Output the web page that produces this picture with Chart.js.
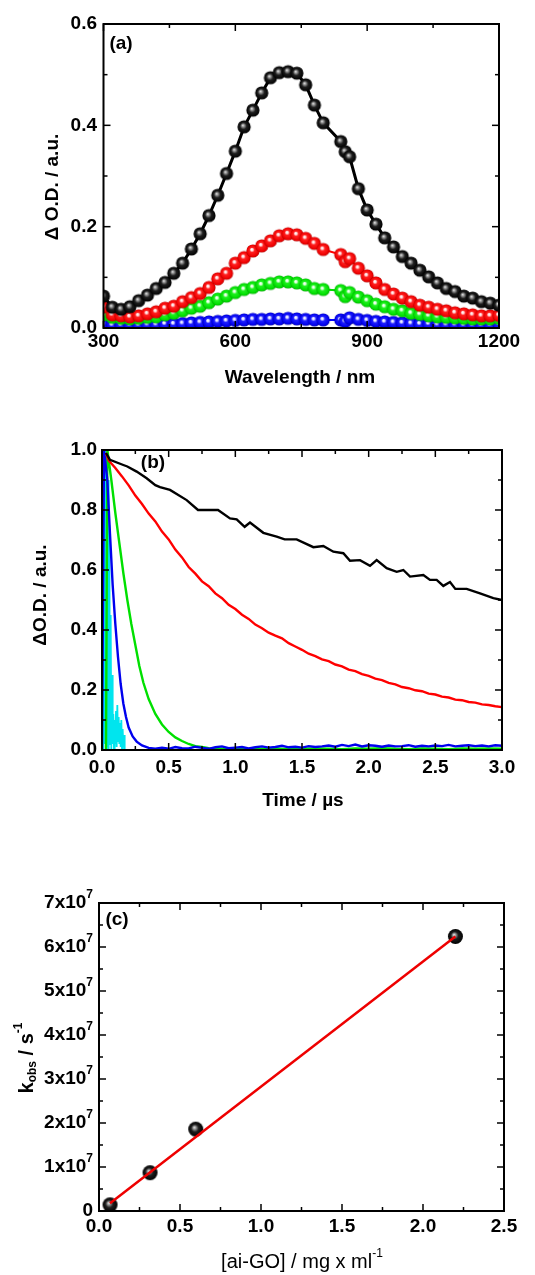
<!DOCTYPE html>
<html>
<head>
<meta charset="utf-8">
<script src="https://cdn.jsdelivr.net/npm/chart.js@4/dist/chart.umd.min.js"></script>
<style>
  html, body { margin: 0; padding: 0; background: #fff; }
  body { width: 535px; height: 1275px; position: relative; overflow: hidden; }
  canvas { position: absolute; left: 0; }
</style>
</head>
<body>
<canvas id="chartA" width="535" height="400" style="top:0px"></canvas>
<canvas id="chartB" width="535" height="420" style="top:400px"></canvas>
<canvas id="chartC" width="535" height="455" style="top:820px"></canvas>
<script>
// ---------- (a) transient absorption spectra ----------
const wavelengths = [300, 320, 340, 360, 380, 400, 420, 440, 460, 480, 500, 520, 540, 560, 580, 600,
    620, 640, 660, 680, 700, 720, 740, 760, 780, 800, 840, 850, 860, 880, 900, 920, 940, 960, 980,
    1000, 1020, 1040, 1060, 1080, 1100, 1120, 1140, 1160, 1180, 1200];
const odBlack = [0.063, 0.041, 0.037, 0.042, 0.054, 0.065, 0.078, 0.090, 0.108, 0.128, 0.156, 0.186,
    0.222, 0.262, 0.305, 0.349, 0.397, 0.430, 0.464, 0.494, 0.504, 0.506, 0.503, 0.480, 0.440, 0.405,
    0.368, 0.348, 0.338, 0.275, 0.233, 0.205, 0.178, 0.160, 0.141, 0.128, 0.114, 0.101, 0.089, 0.078,
    0.072, 0.063, 0.059, 0.052, 0.049, 0.045];
const odRed = [0.041, 0.026, 0.024, 0.022, 0.024, 0.028, 0.032, 0.039, 0.043, 0.052, 0.060, 0.068,
    0.080, 0.097, 0.108, 0.128, 0.139, 0.152, 0.162, 0.172, 0.182, 0.186, 0.184, 0.177, 0.167, 0.155,
    0.145, 0.131, 0.137, 0.118, 0.103, 0.089, 0.076, 0.067, 0.059, 0.052, 0.045, 0.041, 0.037, 0.034,
    0.030, 0.028, 0.026, 0.024, 0.024, 0.025];
const odGreen = [0.026, 0.021, 0.019, 0.018, 0.019, 0.021, 0.022, 0.026, 0.029, 0.034, 0.039, 0.043,
    0.050, 0.057, 0.063, 0.070, 0.076, 0.080, 0.085, 0.088, 0.091, 0.091, 0.089, 0.085, 0.078, 0.076,
    0.074, 0.062, 0.070, 0.061, 0.054, 0.047, 0.042, 0.037, 0.034, 0.029, 0.027, 0.024, 0.022, 0.021,
    0.020, 0.019, 0.018, 0.018, 0.018, 0.019];
const odBlue = [0.007, 0.006, 0.006, 0.006, 0.006, 0.007, 0.007, 0.008, 0.008, 0.009, 0.010, 0.011,
    0.012, 0.013, 0.014, 0.015, 0.016, 0.017, 0.017, 0.018, 0.018, 0.019, 0.018, 0.017, 0.016, 0.016,
    0.016, 0.013, 0.020, 0.017, 0.015, 0.013, 0.012, 0.011, 0.010, 0.009, 0.008, 0.008, 0.007, 0.007,
    0.007, 0.006, 0.006, 0.006, 0.006, 0.008];
const xTicksA = [300, 600, 900, 1200];
const xMinorA = [450, 750, 1050];
const yTicksA = [0, 0.2, 0.4, 0.6];
const yMinorA = [0.1, 0.3, 0.5];

// ---------- (b) kinetic traces ----------
const blackT = [0.03, 0.06, 0.16, 0.19, 0.26, 0.335, 0.40, 0.435, 0.51, 0.635, 0.72, 0.87, 0.96, 1.01,
    1.07, 1.11, 1.21, 1.31, 1.37, 1.46, 1.585, 1.66, 1.735, 1.81, 1.86, 1.935, 2.01, 2.06, 2.135, 2.21,
    2.26, 2.31, 2.41, 2.46, 2.51, 2.56, 2.61, 2.65, 2.735, 2.835, 2.935, 3.0];
const blackV = [0.99, 0.967, 0.95, 0.945, 0.928, 0.906, 0.883, 0.876, 0.867, 0.833, 0.80, 0.80, 0.772,
    0.769, 0.744, 0.758, 0.724, 0.711, 0.702, 0.702, 0.676, 0.68, 0.661, 0.656, 0.631, 0.633, 0.614,
    0.633, 0.606, 0.594, 0.60, 0.578, 0.583, 0.567, 0.567, 0.547, 0.56, 0.537, 0.537, 0.522, 0.506, 0.50];
const redT = [0.03, 0.05, 0.10, 0.15, 0.20, 0.25, 0.30, 0.35, 0.40, 0.45, 0.50, 0.55, 0.60, 0.65, 0.70,
    0.75, 0.80, 0.85, 0.90, 0.95, 1.00, 1.05, 1.10, 1.15, 1.20, 1.25, 1.30, 1.35, 1.40, 1.45, 1.50,
    1.55, 1.60, 1.65, 1.70, 1.75, 1.80, 1.85, 1.90, 1.95, 2.00, 2.05, 2.10, 2.15, 2.20, 2.25, 2.30,
    2.35, 2.40, 2.45, 2.50, 2.55, 2.60, 2.65, 2.70, 2.75, 2.80, 2.85, 2.90, 2.95, 3.00];
const redV = [0.99, 0.965, 0.94, 0.912, 0.882, 0.848, 0.82, 0.788, 0.762, 0.728, 0.702, 0.668, 0.642,
    0.61, 0.588, 0.562, 0.546, 0.522, 0.506, 0.484, 0.470, 0.451, 0.437, 0.418, 0.406, 0.391, 0.381,
    0.372, 0.356, 0.345, 0.334, 0.321, 0.313, 0.302, 0.296, 0.285, 0.279, 0.268, 0.263, 0.253, 0.247,
    0.238, 0.233, 0.224, 0.219, 0.210, 0.206, 0.199, 0.196, 0.188, 0.185, 0.178, 0.175, 0.168, 0.166,
    0.160, 0.158, 0.152, 0.150, 0.146, 0.143];
const greenT = [0.03, 0.04, 0.07, 0.10, 0.13, 0.16, 0.19, 0.22, 0.25, 0.28, 0.31, 0.35, 0.40, 0.45,
    0.50, 0.55, 0.60, 0.65, 0.70, 0.75, 0.80, 0.90, 1.00, 1.10, 1.20, 1.30, 1.40, 1.50, 1.60, 1.70,
    1.80, 1.90, 2.00, 2.10, 2.20, 2.30, 2.40, 2.50, 2.60, 2.70, 2.80, 2.90, 3.00];
const greenV = [0.0, 1.0, 0.90, 0.79, 0.69, 0.59, 0.50, 0.42, 0.35, 0.28, 0.225, 0.17, 0.12, 0.085,
    0.06, 0.042, 0.03, 0.02, 0.013, 0.01, 0.006, 0.004, 0.005, 0.003, 0.004, 0.005, 0.003, 0.004, 0.005,
    0.004, 0.003, 0.005, 0.004, 0.006, 0.004, 0.003, 0.005, 0.004, 0.003, 0.005, 0.004, 0.005, 0.004];
const blueT = [0.0, 0.015, 0.04, 0.06, 0.08, 0.10, 0.12, 0.14, 0.16, 0.18, 0.20, 0.23, 0.26, 0.30, 0.35,
    0.40, 0.45, 0.50, 0.55, 0.60, 0.65, 0.70, 0.75, 0.80, 0.85, 0.90, 0.95, 1.00, 1.05, 1.10, 1.15,
    1.20, 1.25, 1.30, 1.35, 1.40, 1.45, 1.50, 1.55, 1.60, 1.65, 1.70, 1.75, 1.80, 1.85, 1.90, 1.95,
    2.00, 2.05, 2.10, 2.15, 2.20, 2.25, 2.30, 2.35, 2.40, 2.45, 2.50, 2.55, 2.60, 2.65, 2.70, 2.75,
    2.80, 2.85, 2.90, 2.95, 3.00];
const blueV = [0.0, 1.0, 0.90, 0.72, 0.55, 0.42, 0.31, 0.22, 0.155, 0.11, 0.075, 0.045, 0.028, 0.015,
    0.007, 0.004, 0.008, 0.004, 0.010, 0.006, 0.005, 0.011, 0.007, 0.004, 0.009, 0.012, 0.006, 0.008,
    0.010, 0.005, 0.009, 0.012, 0.008, 0.010, 0.014, 0.009, 0.011, 0.008, 0.013, 0.010, 0.012, 0.015,
    0.011, 0.017, 0.013, 0.018, 0.012, 0.016, 0.014, 0.011, 0.015, 0.012, 0.013, 0.016, 0.011, 0.014,
    0.012, 0.015, 0.013, 0.017, 0.012, 0.014, 0.016, 0.013, 0.015, 0.012, 0.016, 0.014];
const cyanT = [0.0, 0.005, 0.01, 0.015, 0.02, 0.025, 0.03, 0.035, 0.04, 0.045, 0.05, 0.055, 0.06, 0.065,
    0.07, 0.075, 0.08, 0.085, 0.09, 0.095, 0.10, 0.105, 0.11, 0.115, 0.12, 0.125, 0.13, 0.135, 0.14,
    0.145, 0.15, 0.155, 0.16, 0.165, 0.17];
const cyanV = [0.0, 0.6, 0.0, 1.0, 0.02, 1.0, 0.0, 0.98, 0.01, 0.9, 0.0, 0.75, 0.02, 0.45, 0.0, 0.25,
    0.02, 0.12, 0.0, 0.10, 0.02, 0.13, 0.01, 0.15, 0.03, 0.11, 0.02, 0.09, 0.01, 0.10, 0.0, 0.07, 0.01,
    0.05, 0.0];
const xTicksB = [0, 0.5, 1.0, 1.5, 2.0, 2.5, 3.0];
const xMinorB = [0.25, 0.75, 1.25, 1.75, 2.25, 2.75];
const yTicksB = [0, 0.2, 0.4, 0.6, 0.8, 1.0];
const yMinorB = [0.1, 0.3, 0.5, 0.7, 0.9];

// ---------- (c) kobs vs concentration ----------
const concGO = [0.068, 0.315, 0.597, 2.2];
const kObs = [1.4e6, 8.7e6, 1.86e7, 6.24e7];
const fitConc = [0.068, 2.2];
const fitK = [1.75e6, 6.24e7];
const xTicksC = [0, 0.5, 1.0, 1.5, 2.0, 2.5];
const xMinorC = [0.25, 0.75, 1.25, 1.75, 2.25];
const yTicksC = [0, 1e7, 2e7, 3e7, 4e7, 5e7, 6e7, 7e7];
const yMinorC = [0.5e7, 1.5e7, 2.5e7, 3.5e7, 4.5e7, 5.5e7, 6.5e7];

const FONT = '"Liberation Sans", Arial, sans-serif';
Chart.defaults.font.family = FONT;
Chart.defaults.color = '#000';

function pts(xs, ys) {
    return xs.map((x, i) => ({ x: x, y: ys[i] }));
}

// glossy sphere marker: white highlight, coloured body, darker rim
function sphere(stops, r) {
    const c = document.createElement('canvas');
    const s = Math.ceil(r * 2 + 2);
    c.width = c.height = s;
    const g = c.getContext('2d');
    const m = s / 2;
    const grad = g.createRadialGradient(m - r * 0.2, m - r * 0.25, 0, m, m, r);
    stops.forEach(st => grad.addColorStop(st[0], st[1]));
    g.fillStyle = grad;
    g.beginPath();
    g.arc(m, m, r, 0, Math.PI * 2);
    g.fill();
    return c;
}

function font(p) {
    return (p.weight || 'bold') + ' ' + (p.size || 19) + 'px ' + FONT;
}

function drawRich(ctx, item) {
    ctx.save();
    ctx.translate(item.x, item.y);
    ctx.rotate(item.rot || 0);
    ctx.fillStyle = '#000';
    ctx.textBaseline = 'middle';
    ctx.textAlign = 'left';
    let w = 0;
    item.parts.forEach(p => { ctx.font = font(p); p.w = ctx.measureText(p.t).width; w += p.w; });
    let cx = item.align === 'right' ? -w : -w / 2;
    item.parts.forEach(p => {
        ctx.font = font(p);
        ctx.fillText(p.t, cx, p.dy || 0);
        cx += p.w;
    });
    ctx.restore();
}

// frame with inward ticks on all four sides
function framePlugin(xMaj, xMin, yMaj, yMin) {
    return {
        id: 'frame',
        afterDatasetsDraw(chart) {
            const { ctx, chartArea: a, scales: { x, y } } = chart;
            ctx.save();
            ctx.strokeStyle = '#000';
            ctx.lineWidth = 1.5;
            const seg = (x1, y1, x2, y2) => { ctx.beginPath(); ctx.moveTo(x1, y1); ctx.lineTo(x2, y2); ctx.stroke(); };
            const xt = (vals, len) => vals.forEach(v => {
                const p = x.getPixelForValue(v);
                seg(p, a.bottom, p, a.bottom - len);
                seg(p, a.top, p, a.top + len);
            });
            const yt = (vals, len) => vals.forEach(v => {
                const p = y.getPixelForValue(v);
                seg(a.left, p, a.left + len, p);
                seg(a.right, p, a.right - len, p);
            });
            xt(xMaj, 7); xt(xMin, 4);
            yt(yMaj, 7); yt(yMin, 4);
            ctx.lineWidth = 2;
            ctx.strokeRect(a.left, a.top, a.right - a.left, a.bottom - a.top);
            ctx.restore();
        }
    };
}

function textPlugin(items) {
    return {
        id: 'texts',
        afterDraw(chart) {
            items.forEach(it => drawRich(chart.ctx, it));
        }
    };
}

function axis(min, max, ticks, fitProp, fitVal, pad, fmt, showTicks) {
    return {
        type: 'linear', min: min, max: max,
        grid: { display: false, drawTicks: false },
        border: { display: false },
        afterBuildTicks: s => { s.ticks = ticks.map(v => ({ value: v })); },
        afterFit: s => { s[fitProp] = fitVal; },
        ticks: {
            display: showTicks !== false,
            autoSkip: false, maxRotation: 0, padding: pad,
            font: { size: 19, weight: 'bold' }, color: '#000',
            callback: fmt
        }
    };
}

const baseOpts = {
    responsive: false,
    animation: false,
    events: [],
    plugins: { legend: { display: false }, tooltip: { enabled: false } }
};

// ---------- chart (a) ----------
const sBlack = sphere([[0, '#f0f0f0'], [0.2, '#9a9a9a'], [0.5, '#1e1e1e'], [1, '#000']], 6.6);
const sRed = sphere([[0, '#ffffff'], [0.18, '#ffe0e0'], [0.38, '#ff2020'], [0.85, '#ee0000'], [1, '#b00000']], 6.6);
const sGreen = sphere([[0, '#ffffff'], [0.18, '#e0ffe0'], [0.38, '#20f020'], [0.85, '#00dd00'], [1, '#00a000']], 6.6);
const sBlue = sphere([[0, '#ffffff'], [0.18, '#e0e0ff'], [0.38, '#2020ff'], [0.85, '#0000ee'], [1, '#0000a0']], 6.6);

new Chart(document.getElementById('chartA'), {
    type: 'scatter',
    data: {
        datasets: [
            { data: pts(wavelengths, odBlack), showLine: true, borderColor: '#000', borderWidth: 3, pointStyle: sBlack, pointRadius: 7, order: 1 },
            { data: pts(wavelengths, odRed), showLine: true, borderColor: '#ff0000', borderWidth: 2, pointStyle: sRed, pointRadius: 7, order: 2 },
            { data: pts(wavelengths, odGreen), showLine: true, borderColor: '#00dd00', borderWidth: 2, pointStyle: sGreen, pointRadius: 7, order: 3 },
            { data: pts(wavelengths, odBlue), showLine: true, borderColor: '#0000ff', borderWidth: 2, pointStyle: sBlue, pointRadius: 7, order: 4 }
        ]
    },
    options: Object.assign({}, baseOpts, {
        layout: { padding: { top: 24, right: 36, left: 0, bottom: 0 } },
        scales: {
            x: axis(300, 1200, xTicksA, 'height', 72, 2, v => String(v)),
            y: axis(0, 0.6, yTicksA, 'width', 103.5, 6.5, v => v.toFixed(1))
        }
    }),
    plugins: [
        framePlugin(xTicksA, xMinorA, yTicksA, yMinorA),
        textPlugin([
            { parts: [{ t: '(a)' }], x: 121, y: 44 },
            { parts: [{ t: '\u0394 O.D. / a.u.' }], x: 53, y: 187, rot: -Math.PI / 2 },
            { parts: [{ t: 'Wavelength / nm' }], x: 300, y: 378 }
        ])
    ]
});

// ---------- chart (b) ----------
new Chart(document.getElementById('chartB'), {
    type: 'scatter',
    data: {
        datasets: [
            { data: pts(blackT, blackV), showLine: true, borderColor: '#000', borderWidth: 2.4, pointRadius: 0, order: 1 },
            { data: pts(redT, redV), showLine: true, borderColor: '#ff0000', borderWidth: 2.4, pointRadius: 0, order: 2 },
            { data: pts(blueT, blueV), showLine: true, borderColor: '#0000ee', borderWidth: 2.4, pointRadius: 0, order: 3 },
            { data: pts(greenT, greenV), showLine: true, borderColor: '#00e000', borderWidth: 2.4, pointRadius: 0, order: 4 },
            { data: pts(cyanT, cyanV), showLine: true, borderColor: '#00e5ee', borderWidth: 1.8, pointRadius: 0, order: 5 }
        ]
    },
    options: Object.assign({}, baseOpts, {
        layout: { padding: { top: 50, right: 33, left: 0, bottom: 0 } },
        scales: {
            x: axis(0, 3, xTicksB, 'height', 70, 6, v => v.toFixed(1)),
            y: axis(0, 1, yTicksB, 'width', 102, 5, v => v.toFixed(1))
        }
    }),
    plugins: [
        framePlugin(xTicksB, xMinorB, yTicksB, yMinorB),
        textPlugin([
            { parts: [{ t: '(b)' }], x: 153, y: 63 },
            { parts: [{ t: '\u0394O.D. / a.u.' }], x: 41, y: 195, rot: -Math.PI / 2 },
            { parts: [{ t: 'Time / \u00b5s' }], x: 303, y: 401 }
        ])
    ]
});

// ---------- chart (c) ----------
const sBlackBig = sphere([[0, '#f4f4f4'], [0.2, '#9a9a9a'], [0.5, '#1e1e1e'], [1, '#000']], 7.5);

new Chart(document.getElementById('chartC'), {
    type: 'scatter',
    data: {
        datasets: [
            { data: pts(concGO, kObs), showLine: false, pointStyle: sBlackBig, pointRadius: 8, order: 2 },
            { data: pts(fitConc, fitK), showLine: true, borderColor: '#ee0000', borderWidth: 2.5, pointRadius: 0, order: 1 }
        ]
    },
    options: Object.assign({}, baseOpts, {
        layout: { padding: { top: 83, right: 31, left: 0, bottom: 0 } },
        scales: {
            x: axis(0, 2.5, xTicksC, 'height', 64, 4.5, v => v.toFixed(1)),
            y: axis(0, 7e7, yTicksC, 'width', 99, 6, v => '', false)
        }
    }),
    plugins: [
        framePlugin(xTicksC, xMinorC, yTicksC, yMinorC),
        {
            id: 'yLabelsC',
            afterDraw(chart) {
                const y = chart.scales.y;
                yTicksC.forEach(v => {
                    const parts = v === 0 ? [{ t: '0' }] : [{ t: (v / 1e7) + 'x10' }, { t: '7', size: 12, dy: -8 }];
                    drawRich(chart.ctx, { parts: parts, x: chart.chartArea.left - 6, y: y.getPixelForValue(v), align: 'right' });
                });
            }
        },
        textPlugin([
            { parts: [{ t: '(c)' }], x: 117, y: 100 },
            { parts: [{ t: 'k', size: 20 }, { t: 'obs', size: 12, dy: 6 }, { t: ' / s', size: 20 }, { t: '-1', size: 12, dy: -8 }], x: 27, y: 238, rot: -Math.PI / 2 },
            { parts: [{ t: '[ai-GO] / mg x ml', size: 20, weight: 'normal' }, { t: '-1', size: 12, weight: 'normal', dy: -8 }], x: 302, y: 442 }
        ])
    ]
});
</script>
</body>
</html>
